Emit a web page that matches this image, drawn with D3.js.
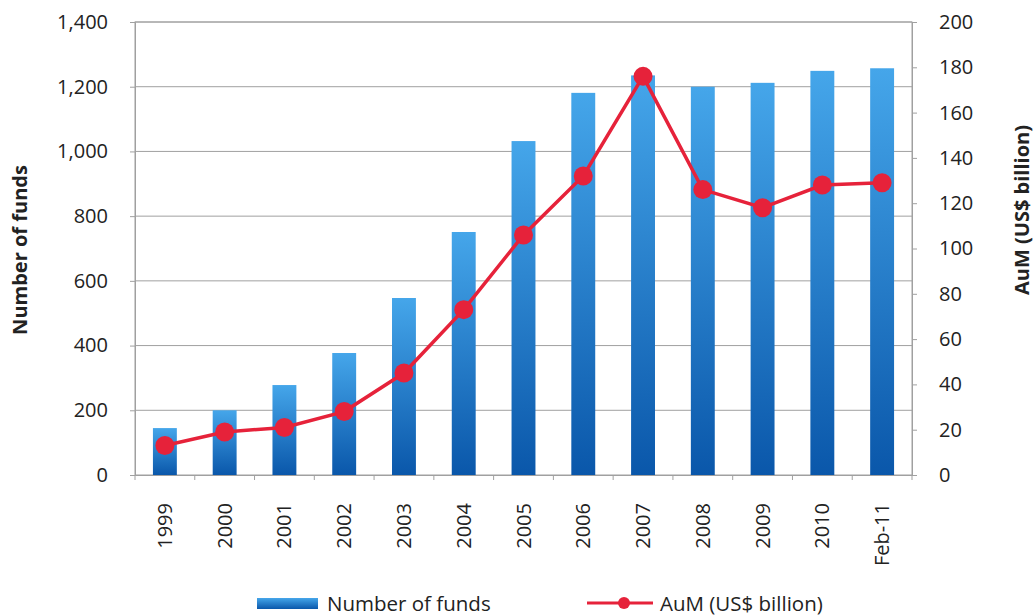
<!DOCTYPE html>
<html>
<head>
<meta charset="utf-8">
<script src="https://cdn.jsdelivr.net/npm/d3@7"></script>
<style>
  body { margin: 0; background: #fff; }
  text { font-family: "Open Sans", Lato, sans-serif; fill: #222; }
</style>
</head>
<body>
<svg id="chart" width="1036" height="616"></svg>
<script>
var years = ["1999","2000","2001","2002","2003","2004","2005","2006","2007","2008","2009","2010","Feb-11"];
var funds = [145, 200, 278, 377, 547, 751, 1032, 1181, 1235, 1200, 1212, 1249, 1257];
var aum = [13, 19, 21, 28, 45, 73, 106, 132, 176, 126, 118, 128, 129];
var leftTicks = [0, 200, 400, 600, 800, 1000, 1200, 1400];
var rightTicks = [0, 20, 40, 60, 80, 100, 120, 140, 160, 180, 200];

var svg = d3.select("#chart");
var pLeft = 135, pRight = 912, pTop = 22, pBottom = 475;

var x = d3.scaleBand().domain(years).range([pLeft, pRight]).paddingInner(0.6).paddingOuter(0.3);
var xs = d3.scaleBand().domain(years).range([pLeft, pRight]);
var yL = d3.scaleLinear().domain([0, 1400]).range([pBottom, pTop]);
var yR = d3.scaleLinear().domain([0, 200]).range([pBottom, pTop]);

var defs = svg.append("defs");
var grad = defs.append("linearGradient").attr("id", "barGrad")
    .attr("x1", 0).attr("y1", 0).attr("x2", 0).attr("y2", 1);
grad.append("stop").attr("offset", "0%").attr("stop-color", "#45a6ea");
grad.append("stop").attr("offset", "100%").attr("stop-color", "#0a57aa");

// gridlines
svg.append("g").selectAll("line").data(leftTicks.slice(1))
  .enter().append("line")
    .attr("x1", pLeft).attr("x2", pRight)
    .attr("y1", function(d){ return yL(d); }).attr("y2", function(d){ return yL(d); })
    .attr("stroke", "#a0a0a0").attr("stroke-width", 1);

// frame
svg.append("rect").attr("x", pLeft).attr("y", pTop)
    .attr("width", pRight - pLeft).attr("height", pBottom - pTop)
    .attr("fill", "none").attr("stroke", "#a0a0a0");

// bars
svg.append("g").selectAll("rect").data(funds)
  .enter().append("rect")
    .attr("x", function(d, i){ return x(years[i]); })
    .attr("width", x.bandwidth())
    .attr("y", function(d){ return yL(d); })
    .attr("height", function(d){ return pBottom - yL(d); })
    .attr("fill", "url(#barGrad)");

// axes
var axL = svg.append("g").attr("transform", "translate(" + pLeft + ",0)")
    .call(d3.axisLeft(yL).tickValues(leftTicks).tickSize(5).tickPadding(22).tickFormat(d3.format(",")));
var axR = svg.append("g").attr("transform", "translate(" + pRight + ",0)")
    .call(d3.axisRight(yR).tickValues(rightTicks).tickSize(5).tickPadding(22));
var axB = svg.append("g").attr("transform", "translate(0," + pBottom + ")")
    .call(d3.axisBottom(xs).tickSize(0).tickPadding(0));

[axL, axR].forEach(function(a){
  a.select(".domain").attr("stroke", "#a0a0a0");
  a.selectAll(".tick line").attr("stroke", "#a0a0a0");
  a.selectAll("text").style("font-size", "20px").attr("fill", "#222");
});
axB.select(".domain").attr("stroke", "#a0a0a0");
axB.selectAll(".tick text")
    .style("font-size", "20px").attr("fill", "#222")
    .attr("text-anchor", "end")
    .attr("transform", "translate(7,28) rotate(-90)")
    .attr("dy", 0).attr("y", 0);

// x ticks at band boundaries
svg.append("g").selectAll("line").data(years.concat(["end"]))
  .enter().append("line")
    .attr("x1", function(d, i){ return pLeft + i * xs.step(); })
    .attr("x2", function(d, i){ return pLeft + i * xs.step(); })
    .attr("y1", pBottom).attr("y2", pBottom + 5)
    .attr("stroke", "#a0a0a0");

// line series
var line = d3.line()
    .x(function(d, i){ return x(years[i]) + x.bandwidth() / 2; })
    .y(function(d){ return yR(d); });
svg.append("path").datum(aum)
    .attr("d", line).attr("fill", "none")
    .attr("stroke", "#e6223a").attr("stroke-width", 3.5);
svg.append("g").selectAll("circle").data(aum)
  .enter().append("circle")
    .attr("cx", function(d, i){ return x(years[i]) + x.bandwidth() / 2; })
    .attr("cy", function(d){ return yR(d); })
    .attr("r", 9.5).attr("fill", "#e6223a");

// axis titles
svg.append("text").attr("transform", "translate(27,250) rotate(-90)")
    .attr("text-anchor", "middle").style("font-size", "20px").style("font-weight", "bold")
    .text("Number of funds");
svg.append("text").attr("transform", "translate(1029,210) rotate(-90)")
    .attr("text-anchor", "middle").style("font-size", "20px").style("font-weight", "bold")
    .text("AuM (US$ billion)");

// legend
var lg = svg.append("g");
lg.append("rect").attr("x", 257).attr("y", 598).attr("width", 61).attr("height", 11).attr("fill", "url(#barGrad)");
lg.append("text").attr("x", 327).attr("y", 611).style("font-size", "20.5px").text("Number of funds");
lg.append("line").attr("x1", 587).attr("x2", 653).attr("y1", 603).attr("y2", 603)
    .attr("stroke", "#e6223a").attr("stroke-width", 3);
lg.append("circle").attr("cx", 624).attr("cy", 603).attr("r", 6).attr("fill", "#e6223a");
lg.append("text").attr("x", 660).attr("y", 611).style("font-size", "20.5px").text("AuM (US$ billion)");
</script>
</body>
</html>
